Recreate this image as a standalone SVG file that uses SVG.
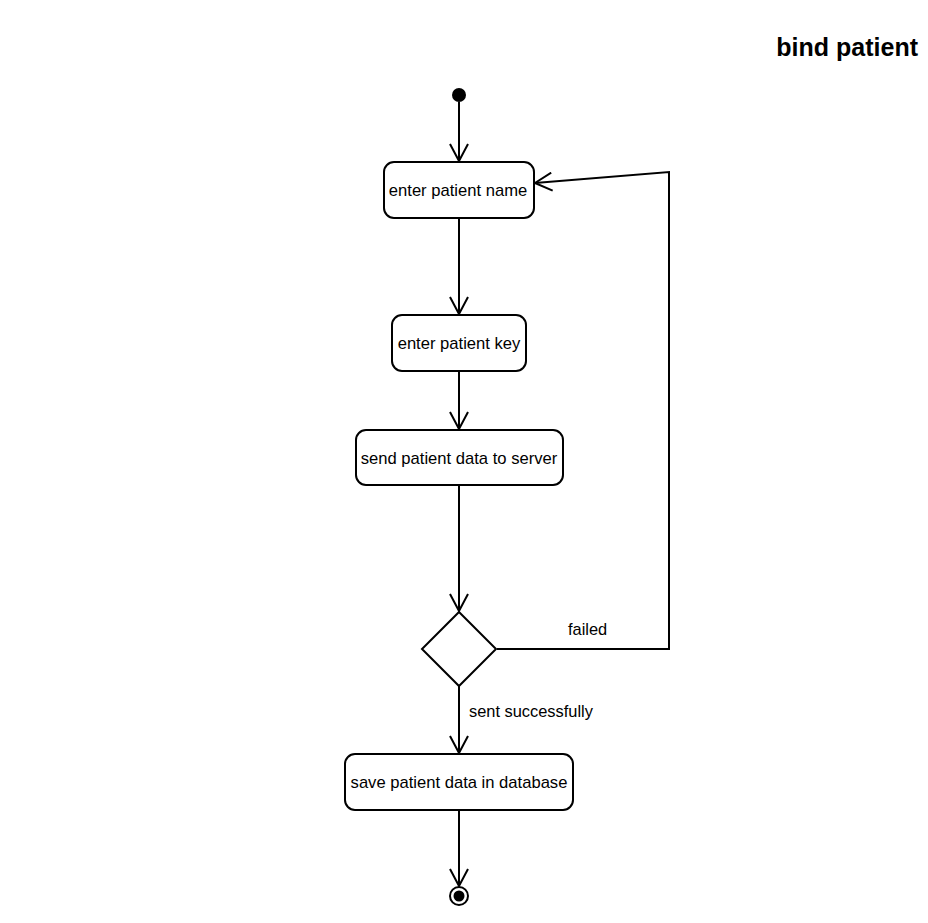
<svg xmlns="http://www.w3.org/2000/svg" width="928" height="923" viewBox="0 0 928 923">
<defs>
<style>
.node rect{fill:#fff;stroke:#000;stroke-width:2}
.lbl{font-family:"Liberation Sans",Arial,sans-serif;font-size:16.6px;fill:#000;text-anchor:middle}
.edge{fill:none;stroke:#000;stroke-width:2}
.elbl{font-family:"Liberation Sans",Arial,sans-serif;font-size:16.4px;fill:#000}
</style>
<marker id="arr" viewBox="0 0 20 20" refX="18" refY="10" markerWidth="20" markerHeight="20" markerUnits="userSpaceOnUse" orient="auto">
<path d="M1,1 L18,10 L1,19" fill="none" stroke="#000" stroke-width="2"/>
</marker>
</defs>
<rect width="928" height="923" fill="#fff"/>
<text x="918" y="56" font-family="Liberation Sans,Arial,sans-serif" font-size="25" font-weight="bold" text-anchor="end">bind patient</text>
<g id="connectors">
<line class="edge" x1="459" y1="102" x2="459" y2="161" marker-end="url(#arr)"/>
<line class="edge" x1="459" y1="218" x2="459" y2="314" marker-end="url(#arr)"/>
<line class="edge" x1="459" y1="371" x2="459" y2="429" marker-end="url(#arr)"/>
<line class="edge" x1="459" y1="485" x2="459" y2="611" marker-end="url(#arr)"/>
<polyline class="edge" points="497,649 669,649 669,172 535,183" marker-end="url(#arr)"/>
<text class="elbl" x="568" y="635">failed</text>
<line class="edge" x1="459" y1="686" x2="459" y2="753" marker-end="url(#arr)"/>
<text class="elbl" x="469" y="717">sent successfully</text>
<line class="edge" x1="459" y1="810" x2="459" y2="886" marker-end="url(#arr)"/>
</g>
<g id="start" class="node"><circle cx="459" cy="95" r="7" fill="#000"/></g>
<g id="enter-name" class="node"><rect x="384" y="162" width="150" height="56" rx="10"/><text class="lbl" x="458" y="196">enter patient name</text></g>
<g id="enter-key" class="node"><rect x="392" y="315" width="134" height="56" rx="10"/><text class="lbl" x="459" y="349">enter patient key</text></g>
<g id="send" class="node"><rect x="356" y="430" width="207" height="55" rx="10"/><text class="lbl" x="459" y="464">send patient data to server</text></g>
<g id="decision" class="node"><polygon points="459,612 496,649 459,686 422,649" fill="#fff" stroke="#000" stroke-width="2"/></g>
<g id="save" class="node"><rect x="345" y="754" width="228" height="56" rx="10"/><text class="lbl" x="459" y="788">save patient data in database</text></g>
<g id="end" class="node"><circle cx="459" cy="896" r="9" fill="#fff" stroke="#000" stroke-width="2"/><circle cx="459" cy="896" r="5.5" fill="#000"/></g>
</svg>
